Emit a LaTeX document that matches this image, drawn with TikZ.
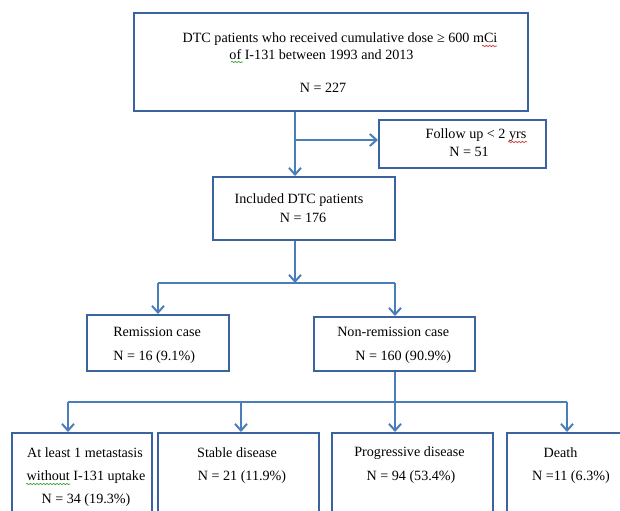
\documentclass[tikz,border=0pt]{standalone}
\usepackage{fontspec}
\setmainfont{Liberation Serif}
\usetikzlibrary{arrows.meta,decorations.pathmorphing}
\definecolor{boxc}{HTML}{3A63A0}
\definecolor{linec}{HTML}{4A7EBB}
\definecolor{redsq}{HTML}{D03030}
\definecolor{greensq}{HTML}{30A030}
\begin{document}
\begin{tikzpicture}[x=0.75pt,y=-0.75pt,
  box/.style 2 args={draw=boxc,line width=1.5pt,minimum width=#1*0.75pt,minimum height=#2*0.75pt,inner sep=0pt,fill=white},
  conn/.style={draw=linec,line width=1.5pt},
  arr/.style={-{Straight Barb[length=5pt,width=9pt]}},
  txt/.style={inner sep=0pt,font=\fontsize{10.6}{12}\selectfont,text=black},
  txtl/.style={txt,anchor=west},
  squig/.style={decorate,decoration={snake,amplitude=0.5pt,segment length=2.5pt},line width=0.5pt}]
\useasboundingbox (0,0) rectangle (620,510);
% boxes
\node[box={394}{98}] (top) at (331,62) {};
\node[box={167}{48}] (fol) at (462.5,144) {};
\node[box={182}{63}] (inc) at (304,208.5) {};
\node[box={142}{56}] (rem) at (158,343) {};
\node[box={161}{54}] (non) at (394.5,344) {};
\node[box={140}{140}] (b1) at (82,503) {};
\node[box={161}{140}] (b2) at (238.5,503) {};
\node[box={161}{140}] (b3) at (412.5,503) {};
\node[box={140}{140}] (b4) at (577,503) {};
% texts
\node[txt] (t1) at (340,39) {DTC patients who received cumulative dose ≥ 600 mCi};
\node[txt] (t2) at (321.5,55) {of I-131 between 1993 and 2013};
\node[txt] (t3) at (323,88) {N = 227};
\node[txt] (f1) at (476,135) {Follow up < 2 yrs};
\node[txt] (f2) at (469,152) {N = 51};
\node[txt] (i1) at (299,200) {Included DTC patients};
\node[txt] (i2) at (303,218) {N = 176};
\node[txtl] (r1) at (113,332) {Remission case};
\node[txtl] (r2) at (113,357) {N = 16 (9.1\%)};
\node[txtl] (n1) at (337,332) {Non-remission case};
\node[txtl] (n2) at (355,357) {N = 160 (90.9\%)};
\node[txt] (a1) at (85,453) {At least 1 metastasis};
\node[txt] (a2) at (86,477) {without I-131 uptake};
\node[txt] (a3) at (86,500) {N = 34 (19.3\%)};
\node[txt] (s1) at (237,453) {Stable disease};
\node[txt] (s2) at (242,477) {N = 21 (11.9\%)};
\node[txt] (p1) at (409.5,453) {Progressive disease};
\node[txt] (p2) at (411,477) {N = 94 (53.4\%)};
\node[txt] (d1) at (560.5,453) {Death};
\node[txt] (d2) at (571,477) {N =11 (6.3\%)};
% spell-check squiggles
\draw[squig,redsq] (482,46) -- (497,46);
\draw[squig,greensq] (231,62) -- (243,62);
\draw[squig,redsq] (508,142) -- (527,142);
\draw[squig,greensq] (26,484) -- (70,484);
% connectors
\coordinate (j1) at (295,140);
\draw[conn,arr] (top.south -| j1) -- (inc.north -| j1);
\draw[conn,arr] (j1) -- (fol.west |- j1);
\coordinate (j2) at (295,283);
\coordinate (hl) at (158,283);
\coordinate (hr) at (395,283);
\draw[conn] (hl) -- (hr);
\draw[conn,arr] (inc.south -| j2) -- (j2);
\draw[conn,arr] (hl) -- (rem.north -| hl);
\draw[conn,arr] (hr) -- (non.north -| hr);
\coordinate (k) at (395,402);
\coordinate (kl) at (68,402);
\coordinate (km) at (241,402);
\coordinate (kr) at (567,402);
\draw[conn] (kl) -- (kr);
\draw[conn,arr] (non.south -| k) -- (b3.north -| k);
\draw[conn,arr] (kl) -- (b1.north -| kl);
\draw[conn,arr] (km) -- (b2.north -| km);
\draw[conn,arr] (kr) -- (b4.north -| kr);
\end{tikzpicture}
\end{document}
